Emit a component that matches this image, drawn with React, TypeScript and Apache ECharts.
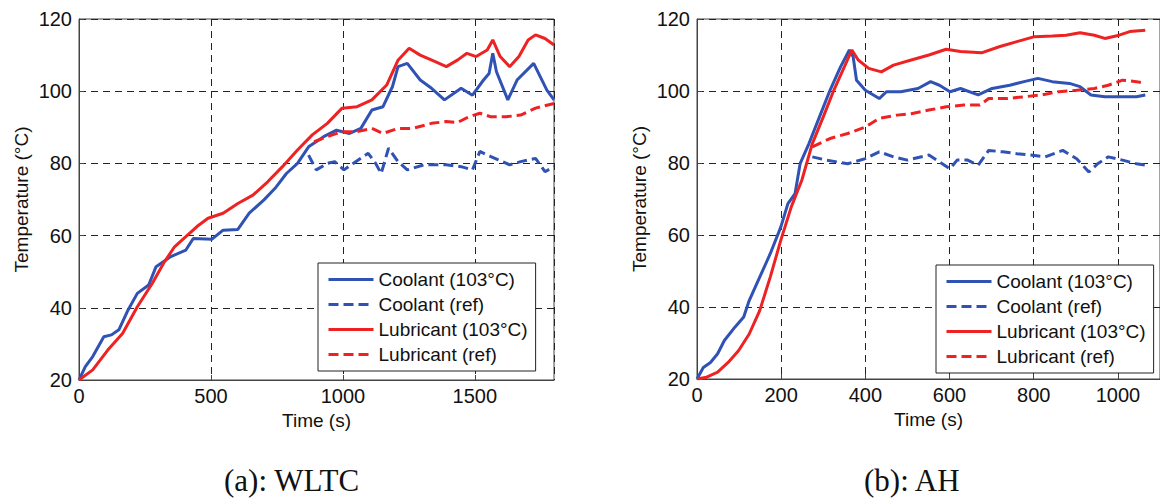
import React, { useEffect, useRef } from "react";
import * as echarts from "echarts";

// ---- (a) WLTC ----
const wltcCoolantT = [0, 24, 52, 94, 123, 151, 186, 221, 264, 292, 348, 405, 433, 504, 546, 602, 645, 701, 743, 786, 828, 870, 927, 976, 1025, 1068, 1110, 1152, 1188, 1209, 1244, 1293, 1336, 1385, 1448, 1491, 1533, 1554, 1568, 1582, 1625, 1660, 1723, 1773, 1800];
const wltcCoolantV = [20, 23.7, 26.5, 32, 32.5, 33.9, 39.4, 44, 46.3, 51.4, 54.2, 56, 59.2, 59, 61.5, 61.7, 66.2, 69.9, 73.1, 77.2, 80, 84.6, 87.4, 89.2, 88.3, 89.7, 94.8, 95.7, 101.3, 106.8, 107.7, 103.1, 100.8, 97.6, 100.8, 98.9, 103.1, 104.9, 110.5, 105.4, 97.6, 103.1, 107.7, 100.3, 97.6];

const wltcCoolantRefT = [870, 899, 941, 969, 1004, 1039, 1096, 1124, 1145, 1173, 1209, 1244, 1307, 1392, 1448, 1491, 1519, 1561, 1589, 1632, 1674, 1730, 1766, 1800];
const wltcCoolantRefV = [82.3, 78.2, 80, 80.5, 78.2, 80, 82.8, 80, 77.2, 84.2, 80.5, 78.2, 79.6, 79.6, 79.1, 78.2, 83.3, 81.9, 81, 79.6, 80.5, 81.4, 77.7, 79.1];

const wltcLubT = [0, 52, 109, 165, 221, 278, 320, 362, 405, 447, 489, 546, 602, 659, 715, 771, 828, 884, 941, 997, 1054, 1110, 1166, 1209, 1251, 1293, 1350, 1392, 1434, 1470, 1505, 1547, 1568, 1596, 1632, 1667, 1702, 1730, 1766, 1800];
const wltcLubV = [20, 22.8, 28.3, 32.9, 40.3, 46.8, 52.3, 56.9, 59.7, 62.5, 64.8, 66.2, 68.9, 71.2, 74.9, 79.1, 83.7, 87.9, 91.1, 95.3, 95.7, 97.6, 101.7, 108.6, 111.9, 110, 108.2, 106.8, 108.6, 110.5, 109.6, 111.4, 114.2, 109.6, 106.8, 109.6, 114.2, 115.6, 114.6, 112.8];

const wltcLubRefT = [891, 941, 997, 1054, 1110, 1152, 1209, 1265, 1336, 1392, 1434, 1477, 1519, 1561, 1618, 1674, 1730, 1800];
const wltcLubRefV = [86, 87.4, 88.8, 88.8, 89.7, 88.3, 89.7, 89.7, 91.1, 91.6, 91.3, 92.9, 93.9, 92.9, 92.9, 93.4, 95.3, 96.6];

// ---- (b) AH ----
const ahCoolantT = [0, 15, 32, 49, 65, 90, 111, 124, 149, 174, 199, 216, 233, 245, 266, 291, 316, 341, 362, 371, 379, 400, 433, 450, 484, 525, 555, 576, 601, 626, 668, 701, 743, 777, 810, 844, 885, 910, 936, 969, 1003, 1044, 1065];
const ahCoolantV = [20, 23.2, 24.6, 27, 30.7, 34.4, 37.2, 41.8, 48.3, 54.8, 62.2, 68.7, 71.5, 79.8, 85.4, 92.8, 100.2, 106.7, 111.4, 109.5, 103, 100.2, 97.9, 99.8, 99.8, 100.7, 102.6, 101.6, 99.8, 100.7, 98.9, 100.7, 101.6, 102.6, 103.5, 102.6, 102.1, 101.2, 98.9, 98.4, 98.4, 98.4, 98.9];

const ahCoolantRefT = [274, 308, 358, 400, 433, 467, 500, 551, 576, 601, 618, 643, 668, 693, 726, 760, 793, 827, 869, 902, 931, 952, 977, 1011, 1044, 1065];
const ahCoolantRefV = [81.7, 80.8, 79.8, 81.2, 83.1, 81.7, 80.8, 82.2, 80.3, 78.4, 80.8, 80.8, 79.4, 83.5, 83.1, 82.6, 82.2, 81.7, 83.5, 81.2, 77.5, 79.8, 81.7, 80.8, 79.8, 79.4];

const ahLubT = [0, 23, 49, 74, 99, 124, 149, 174, 199, 224, 249, 274, 300, 325, 350, 368, 383, 408, 438, 467, 509, 551, 592, 626, 676, 718, 760, 802, 844, 877, 910, 944, 969, 1003, 1028, 1065];
const ahLubV = [20, 20.5, 21.9, 24.6, 27.9, 32.5, 39, 48.3, 58.5, 67.8, 75.2, 85.4, 92.8, 100.2, 106.7, 111.4, 108.6, 106.3, 105.3, 107.2, 108.6, 110, 111.6, 111, 110.6, 112.3, 113.7, 115.1, 115.3, 115.5, 116.2, 115.5, 114.6, 115.5, 116.5, 116.9];

const ahLubRefT = [274, 316, 358, 400, 433, 475, 509, 551, 592, 634, 672, 693, 735, 777, 818, 860, 902, 944, 977, 1011, 1044, 1065];
const ahLubRefV = [84.5, 86.8, 88.2, 90, 92.4, 93.3, 93.7, 94.7, 95.6, 96.1, 96.1, 97.9, 97.9, 98.4, 98.9, 99.8, 100.2, 100.7, 101.6, 103, 102.6, 102.1];

const seriesNames = ["Coolant (103°C)", "Coolant (ref)", "Lubricant (103°C)", "Lubricant (ref)"];
const yTicks = [20, 40, 60, 80, 100, 120];
const captions = ["(a): WLTC", "(b): AH"];

const BLUE = "#2f52b4";
const RED = "#ee2222";

const zip = (t: number[], v: number[]) => t.map((x, i) => [x, v[i]]);

export default function App() {
  const ref = useRef<HTMLDivElement>(null);
  useEffect(() => {
    if (!ref.current) return;
    const chart = echarts.init(ref.current, undefined, { renderer: "svg" });
    const font = "Liberation Sans";
    const gridLine = { show: true, lineStyle: { color: "#222", width: 1, type: [7, 5] as any } };
    const axisLine = { show: true, lineStyle: { color: "#444", width: 1 } };
    const tick = { show: true, inside: true, length: 5, lineStyle: { color: "#444" } };
    const lbl = { color: "#111", fontSize: 20, fontFamily: font, formatter: (v: number) => String(v) };
    const mk = (name: string, idx: number, data: number[][], color: string, dashed: boolean) => ({
      name,
      type: "line",
      xAxisIndex: idx,
      yAxisIndex: idx,
      data,
      symbol: "none",
      showSymbol: false,
      lineStyle: { color, width: 3, type: dashed ? ([10, 5] as any) : "solid" },
      itemStyle: { color },
      z: 3,
    });
    const legendBase = {
      orient: "vertical",
      data: seriesNames,
      itemWidth: 45,
      itemHeight: 14,
      itemGap: 6,
      padding: [7, 8, 7, 9],
      borderColor: "#222",
      borderWidth: 1,
      backgroundColor: "#fff",
      borderRadius: 0,
      itemStyle: { opacity: 0 },
      lineStyle: { width: 3 },
      textStyle: { color: "#111", fontSize: 19, fontFamily: font },
      selectedMode: false,
      z: 10,
    };
    chart.setOption({
      animation: false,
      backgroundColor: "#fff",
      grid: [
        { left: 79, right: 606, top: 19, bottom: 121, show: true, borderColor: "#444", borderWidth: 1, backgroundColor: "#fff" },
        { left: 697, right: -7, top: 19, bottom: 122, show: true, borderColor: "#444", borderWidth: 1, backgroundColor: "#fff" },
      ],
      xAxis: [
        {
          gridIndex: 0, type: "value", min: 0, max: 1800, interval: 500,
          name: "Time (s)", nameLocation: "middle", nameGap: 31,
          nameTextStyle: { color: "#111", fontSize: 19, fontFamily: font },
          axisLine, axisTick: tick, splitLine: gridLine,
          axisLabel: { ...lbl, margin: 6, showMaxLabel: false },
        },
        {
          gridIndex: 1, type: "value", min: 0, max: 1100, interval: 200,
          name: "Time (s)", nameLocation: "middle", nameGap: 31,
          nameTextStyle: { color: "#111", fontSize: 19, fontFamily: font },
          axisLine, axisTick: tick, splitLine: gridLine,
          axisLabel: { ...lbl, margin: 6, showMaxLabel: false },
        },
      ],
      yAxis: [0, 1].map((i) => ({
        gridIndex: i, type: "value", min: yTicks[0], max: yTicks[yTicks.length - 1], interval: 20,
        name: "Temperature (°C)", nameLocation: "middle", nameGap: 48, nameRotate: 90,
        nameTextStyle: { color: "#111", fontSize: 19, fontFamily: font },
        axisLine, axisTick: tick, splitLine: gridLine,
        axisLabel: { ...lbl, margin: 7 },
      })),
      legend: [
        { ...legendBase, left: 318, top: 263 },
        { ...legendBase, left: 936, top: 265 },
      ],
      series: [
        mk(seriesNames[0], 0, zip(wltcCoolantT, wltcCoolantV), BLUE, false),
        mk(seriesNames[1], 0, zip(wltcCoolantRefT, wltcCoolantRefV), BLUE, true),
        mk(seriesNames[2], 0, zip(wltcLubT, wltcLubV), RED, false),
        mk(seriesNames[3], 0, zip(wltcLubRefT, wltcLubRefV), RED, true),
        mk(seriesNames[0], 1, zip(ahCoolantT, ahCoolantV), BLUE, false),
        mk(seriesNames[1], 1, zip(ahCoolantRefT, ahCoolantRefV), BLUE, true),
        mk(seriesNames[2], 1, zip(ahLubT, ahLubV), RED, false),
        mk(seriesNames[3], 1, zip(ahLubRefT, ahLubRefV), RED, true),
      ],
      graphic: [
        { type: "text", left: 224, top: 465, style: { text: captions[0], fill: "#111", font: '31px "Liberation Serif"' } },
        { type: "text", left: 864, top: 465, style: { text: captions[1], fill: "#111", font: '31px "Liberation Serif"' } },
      ],
    });
    return () => chart.dispose();
  }, []);
  return (
    <div
      ref={ref}
      style={{ position: "fixed", left: 0, top: 0, width: 1160, height: 501, background: "#fff" }}
    />
  );
}
